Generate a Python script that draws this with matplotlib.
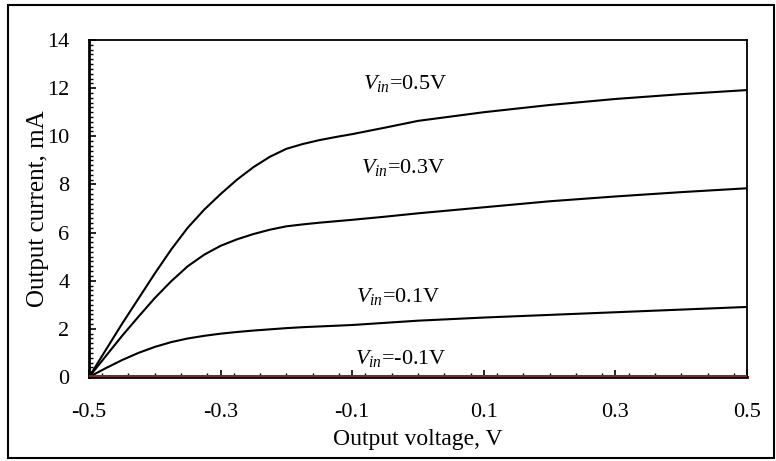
import matplotlib
matplotlib.use("Agg")
import matplotlib.pyplot as plt
from matplotlib.ticker import MultipleLocator, FixedLocator
from matplotlib.patches import Rectangle

plt.rcParams['font.family'] = ['Liberation Serif', 'DejaVu Serif']
plt.rcParams['mathtext.fontset'] = 'custom'
plt.rcParams['mathtext.it'] = 'Liberation Serif:italic'
plt.rcParams['mathtext.rm'] = 'Liberation Serif'

# Data
v_out = [-0.5, -0.475, -0.45, -0.425, -0.4, -0.375, -0.35, -0.325, -0.3, -0.275, -0.25,
         -0.225, -0.2, -0.175, -0.15, -0.125, -0.1, -0.05, 0.0, 0.1, 0.2, 0.3, 0.4, 0.5]
i_05 = [0.0, 1.1, 2.2, 3.25, 4.3, 5.3, 6.2, 6.95, 7.6, 8.2, 8.72,
        9.15, 9.48, 9.68, 9.84, 9.97, 10.09, 10.36, 10.64, 11.0, 11.3, 11.55, 11.75, 11.92]
i_03 = [0.0, 0.85, 1.7, 2.5, 3.28, 3.98, 4.6, 5.08, 5.45, 5.72, 5.94,
        6.12, 6.26, 6.34, 6.41, 6.47, 6.53, 6.66, 6.8, 7.05, 7.3, 7.5, 7.68, 7.84]
i_01 = [0.0, 0.36, 0.7, 1.0, 1.25, 1.45, 1.6, 1.71, 1.8, 1.87, 1.93,
        1.98, 2.03, 2.07, 2.1, 2.13, 2.16, 2.25, 2.34, 2.47, 2.58, 2.69, 2.8, 2.91]
i_m01 = [0.05] * len(v_out)

labels = ["$V_{in}$=0.5V", "$V_{in}$=0.3V", "$V_{in}$=0.1V", "$V_{in}$=-0.1V"]
label_pos = [(-0.083, 12.2), (-0.086, 8.7), (-0.094, 3.36), (-0.096, 0.75)]

xticks = [-0.5, -0.3, -0.1, 0.1, 0.3, 0.5]
xticklabels = ['-0.5', '-0.3', '-0.1', '0.1', '0.3', '0.5']
yticks = [0, 2, 4, 6, 8, 10, 12, 14]

fig = plt.figure(figsize=(7.76, 4.61), dpi=100)
ax = fig.add_axes([89/776, 1-377/461, (747-89)/776, (377-40)/461])

for ys in (i_05, i_03, i_01):
    ax.plot(v_out, ys, color='black', lw=1.5, solid_joinstyle='round')
ax.plot(v_out, i_m01, color='#7a2a2a', lw=2.2, zorder=3)

for (x, y), t in zip(label_pos, labels):
    ax.text(x, y, t, fontsize=16, va='center', ha='left')

ax.set_xlim(-0.5, 0.5)
ax.set_ylim(0, 14)
ax.xaxis.set_major_locator(FixedLocator(xticks))
ax.xaxis.set_minor_locator(MultipleLocator(0.04))
ax.set_xticklabels(xticklabels)
ax.yaxis.set_major_locator(FixedLocator(yticks))
ax.yaxis.set_minor_locator(MultipleLocator(0.2))
ax.tick_params(which='both', direction='in', labelsize=16, top=False, right=False)
ax.tick_params(which='major', length=5, width=1.2)
ax.tick_params(which='minor', length=3, width=1.0)
ax.tick_params(axis='x', which='major', pad=19)
ax.tick_params(axis='y', which='major', pad=14)
for s in ax.spines.values():
    s.set_linewidth(1.3)
ax.spines['left'].set_linewidth(2)
ax.spines['bottom'].set_linewidth(2)

ax.set_xlabel('Output voltage, V', fontsize=17, labelpad=5)
ax.set_ylabel('Output current, mA', fontsize=18, labelpad=-1)

fig.patches.append(Rectangle((8/776, 1-458/461), (774-8)/776, (458-5)/461,
                             transform=fig.transFigure, fill=False,
                             edgecolor='black', lw=1.5))

fig.savefig('out.png', dpi=100)
